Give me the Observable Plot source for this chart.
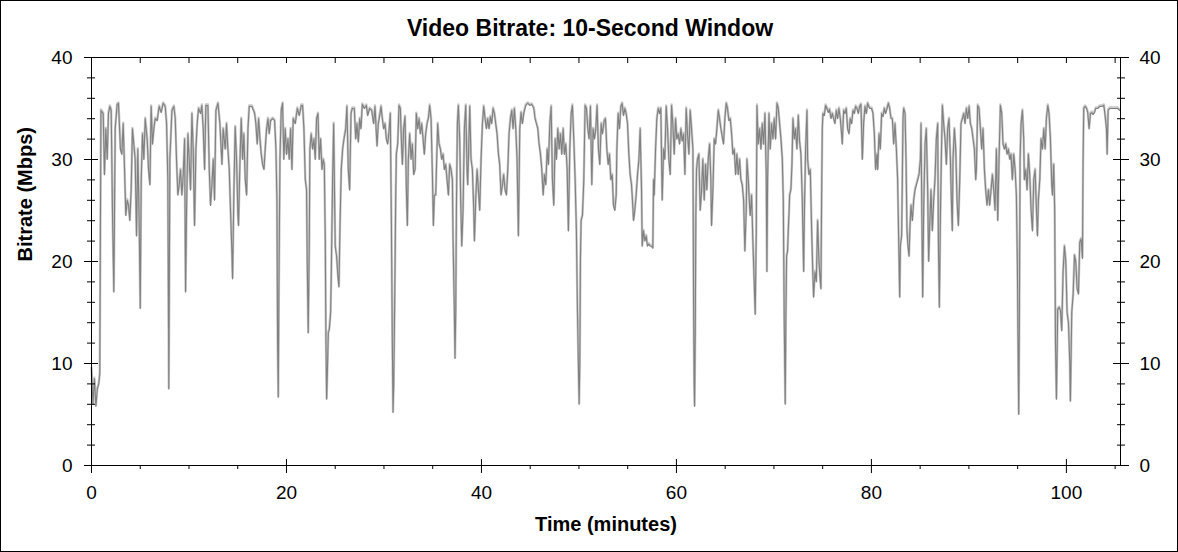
<!DOCTYPE html>
<html lang="en">
<head>
<meta charset="UTF-8">
<title>Video Bitrate: 10-Second Window</title>
<style>
  body { margin: 0; padding: 0; background: white; }
  #chart svg { display: block; outline: 1px solid #000; outline-offset: -1px; }
</style>
</head>
<body>
<div id="chart"></div>
<script src="https://cdn.jsdelivr.net/npm/d3@7"></script>
<script src="https://cdn.jsdelivr.net/npm/@observablehq/plot@0.6"></script>
<script>
// [minutes, Mbps], in four stretches
const part1 = [[0,9.5],[0.15,6],[0.3,8.5],[0.45,5.8],[0.6,7.5],[0.75,8],[0.85,9],[0.9,20],[0.97,34.8],[1.2,34.5],[1.33,28.5],[1.47,33],[1.61,30],[1.74,34.5],[1.88,35.2],[2.02,34.8],[2.15,25],[2.29,17],[2.43,33],[2.63,35.4],[2.77,35.5],[2.97,31],[3.11,30.5],[3.25,33.5],[3.39,29],[3.52,24.5],[3.66,26],[3.8,25.5],[3.93,24],[4.07,27],[4.2,33],[4.34,31.5],[4.48,30],[4.62,22.5],[4.75,31],[4.89,24],[5.0,15.4],[5.1,28],[5.23,32.5],[5.37,30],[5.51,34],[5.71,32],[5.85,29],[5.99,27.5],[6.12,35.2],[6.26,31.5],[6.4,33],[6.53,34],[6.74,33.8],[6.94,35.2],[7.15,34.6],[7.35,35.5],[7.56,35.2],[7.7,33.5],[7.83,28],[7.9,14],[7.93,7.5],[8.04,30],[8.25,34.8],[8.45,35.2],[8.59,34],[8.72,30],[8.86,26.5],[9.0,27.5],[9.13,29],[9.27,26.5],[9.41,28.5],[9.55,32],[9.65,17],[9.75,25],[9.89,32.5],[10.02,30],[10.16,27],[10.3,34.5],[10.43,31],[10.57,23.5],[10.71,31],[10.84,33.5],[10.98,35],[11.19,34.5],[11.32,35.3],[11.46,33],[11.6,29],[11.73,35.3],[11.94,35.3],[12.08,29],[12.21,25.5],[12.35,27.5],[12.49,30],[12.62,26],[12.76,34.8],[12.97,35.5],[13.17,33.5],[13.38,29.5],[13.51,33],[13.72,31],[13.85,33.5],[13.99,31],[14.13,29],[14.26,25],[14.4,21],[14.47,18.3],[14.61,27],[14.74,33.2],[14.88,30],[15.02,24.5],[15.08,23.5],[15.22,29.5],[15.36,34],[15.5,30],[15.63,32.5],[15.77,28],[15.91,26.5],[16.05,33],[16.18,35.2],[16.45,35.2],[16.73,34.5],[16.86,33.5],[17.0,31.5],[17.14,34],[17.28,32],[17.41,30.5],[17.55,29.5],[17.69,29],[17.82,31],[17.96,33],[18.1,34],[18.23,32.5],[18.37,33.8],[18.58,34],[18.78,33.8],[18.92,31],[19.02,26],[19.09,12],[19.16,6.7],[19.22,17],[19.33,30],[19.46,34.8],[19.6,35.5],[19.73,30],[19.87,33],[20.01,30.5],[20.15,32],[20.28,30],[20.42,33],[20.56,29],[20.69,34],[20.9,33.5],[21.11,35],[21.31,34.3],[21.52,35.3],[21.65,35.3],[21.79,33],[21.93,28],[22.06,27],[22.13,20],[22.23,13],[22.34,22],[22.4,31],[22.54,32.5],[22.68,31],[22.82,32],[22.95,30],[23.09,34],[23.23,34.5],[23.36,30],[23.5,32],[23.64,29],[23.77,30],[23.88,29.5],[23.98,22],[24.05,12],[24.12,6.5],[24.19,9],[24.29,13],[24.39,13.3],[24.53,15],[24.6,19],[24.73,28],[24.84,33.5],[24.94,26],[25.0,21.5],[25.14,20.5],[25.28,18.5],[25.38,17.5],[25.49,23.5],[25.62,29],[25.76,31],[25.9,32]];

const part2 = [[26.07,33],[26.2,35.2],[26.34,29],[26.48,27],[26.62,34.5],[26.75,35],[26.96,35],[27.1,32],[27.23,33.5],[27.37,31.7],[27.51,34],[27.64,33],[27.78,35.4],[27.99,35],[28.19,35.3],[28.33,34.3],[28.53,35],[28.74,34.8],[28.94,33.5],[29.08,35.2],[29.22,32.5],[29.29,31.3],[29.42,33.5],[29.56,34.3],[29.7,35.2],[29.83,34],[29.97,33],[30.11,33.5],[30.24,32],[30.38,31.5],[30.52,32.8],[30.65,34.5],[30.76,24],[30.86,12],[30.93,5.2],[31.0,8],[31.1,16],[31.2,26],[31.27,30.5],[31.41,31.5],[31.54,35.3],[31.68,35],[31.82,31],[31.89,29.5],[32.02,33],[32.16,34.2],[32.3,27],[32.4,23.5],[32.5,30],[32.64,32.5],[32.78,30],[32.91,31.5],[33.05,28.5],[33.19,29],[33.32,34.5],[33.46,33],[33.6,34],[33.73,32.5],[33.87,33.5],[34.01,32],[34.14,30.5],[34.28,32.5],[34.42,33.5],[34.55,34],[34.69,35.3],[34.83,34],[34.97,28.5],[35.07,23.5],[35.17,26.5],[35.31,26.5],[35.38,29],[35.51,33.5],[35.65,31.5],[35.79,31],[35.92,30],[36.06,30.5],[36.2,29],[36.33,29.5],[36.47,28],[36.61,26.5],[36.74,29.5],[36.88,29],[37.02,28],[37.09,22],[37.22,15],[37.29,10.5],[37.36,15],[37.43,25],[37.53,33.5],[37.63,35.3],[37.77,32],[37.87,26],[37.98,21.5],[38.11,25],[38.25,33],[38.39,35.3],[38.52,29],[38.59,27.5],[38.66,30],[38.8,35.2],[38.93,30],[39.07,29],[39.21,25],[39.28,22],[39.41,26],[39.55,29],[39.69,27],[39.82,25],[39.96,30],[40.1,33.5],[40.23,35.2],[40.37,34],[40.51,33],[40.64,34],[40.78,33],[40.92,34.2],[41.05,33.5],[41.19,35],[41.33,34.5],[41.46,33.5],[41.6,32.5],[41.74,30.5],[41.87,29.5],[42.01,26.5],[42.15,27.5],[42.28,28.5],[42.42,27],[42.56,26.5],[42.7,29],[42.83,32.5],[42.97,34],[43.11,34.8],[43.24,33],[43.38,35],[43.52,33],[43.65,30],[43.79,22.5],[43.86,28],[43.93,33],[44.06,34.6],[44.2,33.5],[44.34,34.5],[44.54,35.3],[44.75,35.5],[44.95,35.3],[45.16,35.4],[45.37,35],[45.5,34],[45.64,33.5],[45.78,33],[45.91,31.5],[46.05,30.5],[46.19,29],[46.33,26.5],[46.46,28.5],[46.6,27.5],[46.74,31],[46.87,29.5],[47.01,33.5],[47.15,35.2],[47.28,28],[47.42,25.5],[47.56,32],[47.69,30],[47.83,33],[47.97,31],[48.1,32.5],[48.24,30.5],[48.38,33],[48.51,30.5],[48.65,31.5],[48.79,29],[48.92,23],[49.06,31],[49.2,34.5],[49.33,35.3],[49.47,32],[49.61,28],[49.74,23],[49.85,15],[49.95,9.5],[50.02,6],[50.09,10],[50.15,20],[50.22,24],[50.36,24.5],[50.5,28],[50.63,35.3],[50.77,35],[50.91,33],[51.04,32],[51.18,35.2],[51.32,27.5],[51.45,33],[51.59,32],[51.73,33],[51.86,35.3],[52.0,31],[52.14,29.5],[52.28,33.5],[52.41,32.5]];

const part3 = [[52.59,33.8],[52.72,34],[52.86,31],[53.0,29.5],[53.13,30.5],[53.27,28],[53.41,28.5],[53.54,25.5],[53.68,25],[53.82,26.5],[53.89,31],[54.02,34.5],[54.16,33],[54.3,35.2],[54.43,35.5],[54.57,34.3],[54.71,35],[54.84,34.5],[54.98,33.5],[55.12,30.5],[55.25,28.5],[55.39,27.5],[55.46,26.5],[55.6,24],[55.73,25],[55.87,26.5],[56.01,28.5],[56.15,30],[56.28,33],[56.42,27],[56.49,21.5],[56.62,23],[56.76,22],[56.9,22.5],[57.03,21.5],[57.17,21.7],[57.31,21.5],[57.44,21.5],[57.58,21.3],[57.65,28],[57.72,26.5],[57.86,31],[57.99,34],[58.13,35],[58.27,34.5],[58.4,35],[58.54,26],[58.68,31],[58.81,30],[58.95,35.2],[59.09,33],[59.22,30],[59.36,28.5],[59.5,35.3],[59.63,33.5],[59.77,30.5],[59.91,34],[60.04,32],[60.18,32.5],[60.32,31.5],[60.46,33],[60.59,31.8],[60.73,32.5],[60.87,28.5],[61.0,35],[61.14,32.5],[61.28,30.5],[61.41,34.8],[61.55,33],[61.69,31],[61.76,16],[61.82,8],[61.86,5.8],[61.93,13],[61.99,24.5],[62.06,29],[62.16,30],[62.3,30.5],[62.44,25],[62.58,27],[62.71,30],[62.85,26],[62.99,29.5],[63.12,27],[63.26,30],[63.4,31.5],[63.53,28],[63.6,23.5],[63.74,27],[63.88,32],[64.01,31.5],[64.15,33],[64.29,34.8],[64.42,34],[64.56,33],[64.7,32.2],[64.83,31.5],[64.97,34],[65.11,35.5],[65.24,35],[65.38,33.8],[65.52,34],[65.66,32.5],[65.79,30.5],[65.93,31],[66.07,28.5],[66.2,30.5],[66.34,28.5],[66.48,30],[66.61,28],[66.75,27.5],[66.89,26],[67.02,21],[67.16,25],[67.23,30],[67.37,28],[67.5,25.5],[67.57,24.5],[67.71,26.5],[67.84,22],[68.08,14.8],[68.19,23],[68.26,35.3],[68.39,31.5],[68.53,33],[68.67,31],[68.8,33.5],[68.94,31.5],[69.08,34.5],[69.21,28.5],[69.28,19],[69.35,28],[69.49,34.5],[69.62,31],[69.76,33.5],[69.9,32],[70.03,34],[70.17,32],[70.31,35.5],[70.45,35],[70.58,33.5],[70.72,32],[70.86,30],[70.96,26],[71.06,14],[71.13,8.5],[71.16,6],[71.23,15],[71.3,20.5],[71.4,21],[71.47,23],[71.54,24.5],[71.61,26.5],[71.74,27],[71.85,29.5],[71.95,34],[72.09,32],[72.22,33],[72.36,31],[72.5,34.3],[72.63,31.8],[72.77,30.5],[72.91,26],[73.05,19],[73.11,24],[73.25,31],[73.39,34.8],[73.46,30],[73.59,28.5],[73.73,29],[73.87,23],[74.0,18.5],[74.07,16.5],[74.21,19],[74.35,18],[74.48,24],[74.62,20],[74.76,18],[74.82,17.3],[74.89,26],[74.96,33],[75.03,34.5],[75.17,34.3],[75.3,35.3],[75.44,35],[75.58,34.6],[75.71,34.9],[75.85,34],[75.99,34.5],[76.12,34],[76.26,33.5],[76.4,34.8],[76.53,34],[76.67,35],[76.81,34],[76.94,32.5],[77.01,31.5],[77.15,34.8],[77.29,34.5],[77.42,35],[77.56,33],[77.7,32.5],[77.83,34],[77.97,33.5],[78.11,34.8],[78.25,34.5],[78.38,35.2],[78.52,35],[78.66,34.5],[78.79,35.2]];

const part4 = [[78.93,35.4],[79.07,30],[79.2,33.5],[79.34,35.2],[79.48,34.5],[79.61,35.5],[79.82,35],[80.02,35],[80.16,34.5],[80.3,32.5],[80.43,29],[80.57,30.5],[80.64,29],[80.78,32.5],[80.91,31],[81.05,34.5],[81.19,34.2],[81.32,35],[81.46,34.5],[81.6,35],[81.74,35.5],[81.87,35],[82.01,34],[82.15,34],[82.28,31.5],[82.42,33.5],[82.56,31],[82.69,28],[82.8,22],[82.9,16.5],[82.97,21.5],[83.1,22.5],[83.17,28],[83.24,34],[83.31,35],[83.45,34.5],[83.55,30],[83.65,23],[83.75,21.5],[83.86,20.5],[83.96,23.5],[84.06,25.5],[84.2,24],[84.34,26],[84.47,27],[84.61,27.5],[84.75,28],[84.88,28.5],[85.02,30],[85.09,33.5],[85.16,26],[85.26,16.5],[85.36,25],[85.5,31.5],[85.63,33],[85.77,27],[85.87,20],[85.98,23.5],[86.11,27],[86.25,23],[86.39,26],[86.52,28],[86.66,32],[86.8,33.5],[86.87,22],[86.97,15.5],[87.07,24],[87.17,30],[87.28,35.3],[87.41,33.5],[87.55,32],[87.69,29.5],[87.82,33],[87.96,34],[88.1,30],[88.23,25],[88.3,23],[88.37,30],[88.51,33],[88.65,31],[88.78,26],[88.92,23.5],[89.06,28],[89.19,33.5],[89.33,34],[89.47,34.5],[89.6,33.5],[89.74,35],[89.88,34],[90.02,35.2],[90.15,33.5],[90.29,33],[90.43,32],[90.56,31],[90.7,28],[90.77,29],[90.9,35.3],[91.04,35],[91.18,33],[91.31,31],[91.45,33],[91.59,29],[91.72,27],[91.86,25.5],[92.0,27],[92.13,25.5],[92.27,27],[92.41,28.5],[92.55,27],[92.68,25],[92.82,31],[92.96,24],[93.09,30],[93.23,35.3],[93.37,34.5],[93.5,31.5],[93.64,31],[93.78,31.5],[93.91,30.5],[94.05,31],[94.19,30],[94.32,30.5],[94.46,28],[94.6,30.5],[94.74,29],[94.87,26.5],[94.97,20],[95.04,12],[95.11,5],[95.18,15],[95.25,30],[95.35,33.5],[95.49,34.8],[95.62,32],[95.69,28],[95.83,29],[95.97,27],[96.1,30.5],[96.24,28.5],[96.38,25],[96.52,23],[96.65,28],[96.79,29],[96.93,25],[97.03,22.5],[97.13,26],[97.27,28],[97.4,32],[97.54,31],[97.68,33],[97.82,31],[97.95,34],[98.09,35.3],[98.22,34.5],[98.36,32],[98.5,27.5],[98.57,26.5],[98.7,29.5],[98.8,25],[98.88,12.1],[98.98,6.5],[99.11,15.3],[99.25,15.5],[99.39,15.2],[99.52,13.2],[99.66,19],[99.8,21.5],[99.94,20],[100.07,15],[100.21,14],[100.35,10],[100.41,6.3],[100.55,15],[100.69,16.7],[100.83,20.6],[100.96,20],[101.1,17.3],[101.24,16.8],[101.37,21.9],[101.51,22.2],[101.65,20.3],[101.71,29.7],[101.78,35],[101.92,35.2],[102.06,35],[102.19,34.6],[102.33,33],[102.47,34.5],[102.6,34.6],[102.74,34.4],[102.88,34.6],[103.01,35],[103.22,35],[103.43,35.2],[103.63,35.2],[103.84,35.3],[103.97,34.3],[104.11,33],[104.18,30.5],[104.28,34.8],[104.45,35],[104.66,35],[104.86,35],[105.07,35],[105.27,35],[105.48,34.8]];

const xMajor = [0, 20, 40, 60, 80, 100];
const xMinor = [5, 10, 15, 25, 30, 35, 45, 50, 55, 65, 70, 75, 85, 90, 95, 105];
const xTop = [0, 5, 10, 15, 20, 25, 30, 35, 40, 45, 50, 55, 60, 65, 70, 75, 80, 85, 90, 95, 100, 105];
const yMajor = [0, 10, 20, 30, 40];
const yMinor = [2, 4, 6, 8, 12, 14, 16, 18, 22, 24, 26, 28, 32, 34, 36, 38];

const title = "Video Bitrate: 10-Second Window";
const xLabel = "Time (minutes)";
const yLabel = "Bitrate (Mbps)";

const series = [...part1, ...part2, ...part3, ...part4].map(([t, v]) => ({t, v}));
const blank = () => "";
const font = 19;

const chart = Plot.plot({
  width: 1178,
  height: 552,
  marginTop: 57,
  marginRight: 58,
  marginBottom: 87,
  marginLeft: 91,
  style: {fontFamily: "'Liberation Sans', Arial, sans-serif", background: "white", color: "black"},
  x: {domain: [0, 105.55]},
  y: {domain: [0, 40]},
  marks: [
    // light envelope under the line
    Plot.line(series, {x: "t", y: "v", stroke: "#c8c8c8", strokeWidth: 2.4, dy: -1}),
    Plot.line(series, {x: "t", y: "v", stroke: "#808080", strokeWidth: 1.1}),
    Plot.frame({stroke: "black"}),

    // left axis
    Plot.axisY({anchor: "left", ticks: yMajor, tickSize: 7, tickPadding: 12, fontSize: font, label: null}),
    Plot.axisY({anchor: "left", ticks: yMajor, tickSize: -7, tickFormat: blank, label: null}),
    Plot.axisY({anchor: "left", ticks: yMinor, tickSize: 4, tickFormat: blank, label: null}),
    Plot.axisY({anchor: "left", ticks: yMinor, tickSize: -4, tickFormat: blank, label: null}),
    // right axis
    Plot.axisY({anchor: "right", ticks: yMajor, tickSize: 8, tickPadding: 11, fontSize: font, label: null}),
    Plot.axisY({anchor: "right", ticks: yMajor, tickSize: -8, tickFormat: blank, label: null}),
    Plot.axisY({anchor: "right", ticks: yMinor, tickSize: 4, tickFormat: blank, label: null}),
    Plot.axisY({anchor: "right", ticks: yMinor, tickSize: -4, tickFormat: blank, label: null}),
    // bottom axis
    Plot.axisX({anchor: "bottom", ticks: xMajor, tickSize: 8, tickPadding: 12, fontSize: font, label: null}),
    Plot.axisX({anchor: "bottom", ticks: xMajor.slice(1), tickSize: -6, tickFormat: blank, label: null}),
    Plot.axisX({anchor: "bottom", ticks: xMinor, tickSize: 4, tickFormat: blank, label: null}),
    // top axis, inward ticks only
    Plot.axisX({anchor: "top", ticks: xTop, tickSize: -5, tickFormat: blank, label: null}),

    Plot.text([title], {text: d => d, frameAnchor: "top", dx: -16, dy: -28.5, lineAnchor: "middle",
      fontSize: 23, fontWeight: "bold", fill: "black"}),
    Plot.text([xLabel], {text: d => d, frameAnchor: "bottom", dy: 59, lineAnchor: "middle",
      fontSize: 20, fontWeight: "bold", fill: "black"}),
    Plot.text([yLabel], {text: d => d, frameAnchor: "left", dx: -66, rotate: -90, lineAnchor: "middle",
      fontSize: 20, fontWeight: "bold", fill: "black"})
  ]
});

document.querySelector("#chart").append(chart);
</script>
</body>
</html>
